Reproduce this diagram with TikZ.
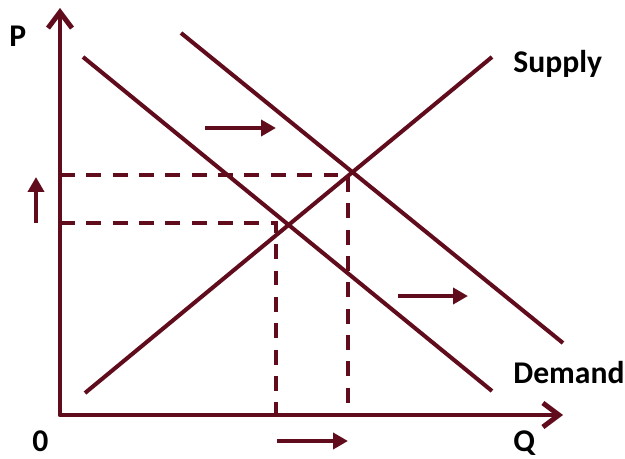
\documentclass[tikz,border=0pt]{standalone}
\usepackage{fontspec}
\setmainfont{Carlito}
\usepackage{tikz}
\usetikzlibrary{arrows.meta}
\definecolor{curvered}{RGB}{96,12,28}

\begin{document}
\begin{tikzpicture}[x=0.02cm, y=-0.02cm,
    axis/.style={draw=curvered, line width=2.8pt, line join=round,
                 {Straight Barb[length=3.2mm,width=4.8mm]}-{Straight Barb[length=3.2mm,width=4.8mm]}},
    curve/.style={draw=curvered, line width=2.3pt},
    guide/.style={draw=curvered, line width=2.2pt, dash pattern=on 8.5pt off 6.5pt},
    shiftarr/.style={draw=curvered, line width=2.8pt, -{Triangle[length=3mm,width=3.2mm]}},
    lbl/.style={font=\fontsize{18}{20}\selectfont\bfseries, text=black,
                inner sep=0pt, anchor=base west}
]
\useasboundingbox (0,0) rectangle (625,459);

% axes
\coordinate (o) at (60,415);
\coordinate (ytop) at (60,8);
\coordinate (xend) at (563,415);
\draw[axis] (ytop) -- (o) -- (xend);

% curves
\coordinate (s1) at (85,393);
\coordinate (s2) at (492,57);
\coordinate (d1a) at (83,57);
\coordinate (d1b) at (492,391);
\coordinate (d2a) at (181,33);
\coordinate (d2b) at (563,343);
\draw[curve] (s1) -- (s2);
\draw[curve] (d1a) -- (d1b);
\draw[curve] (d2a) -- (d2b);

% equilibrium guides
\coordinate (e1) at (276,223);
\coordinate (e2) at (348,175);
\draw[guide] (e1 -| o) -- (e1) -- (e1 |- o);
\draw[guide] (e2 -| o) -- (e2) -- (e2 |- o);

% shift arrows
\coordinate (a1) at (205,128);  \coordinate (a2) at (276,128);
\coordinate (b1) at (398,296);  \coordinate (b2) at (468,296);
\coordinate (q1) at (277,441);  \coordinate (q2) at (348,441);
\coordinate (p1) at (36,223);   \coordinate (p2) at (36,177);
\draw[shiftarr] (a1) -- (a2);
\draw[shiftarr] (b1) -- (b2);
\draw[shiftarr] (q1) -- (q2);
\draw[shiftarr] (p1) -- (p2);

% labels
\node[lbl] (plbl) at (9,47) {P};
\node[lbl] (zero) at (32,451) {0};
\node[lbl] (qlbl) at (513,451) {Q};
\node[lbl] (supply) at (513,73) {Supply};
\node[lbl] (demand) at (513,383) {Demand};
\end{tikzpicture}
\end{document}
